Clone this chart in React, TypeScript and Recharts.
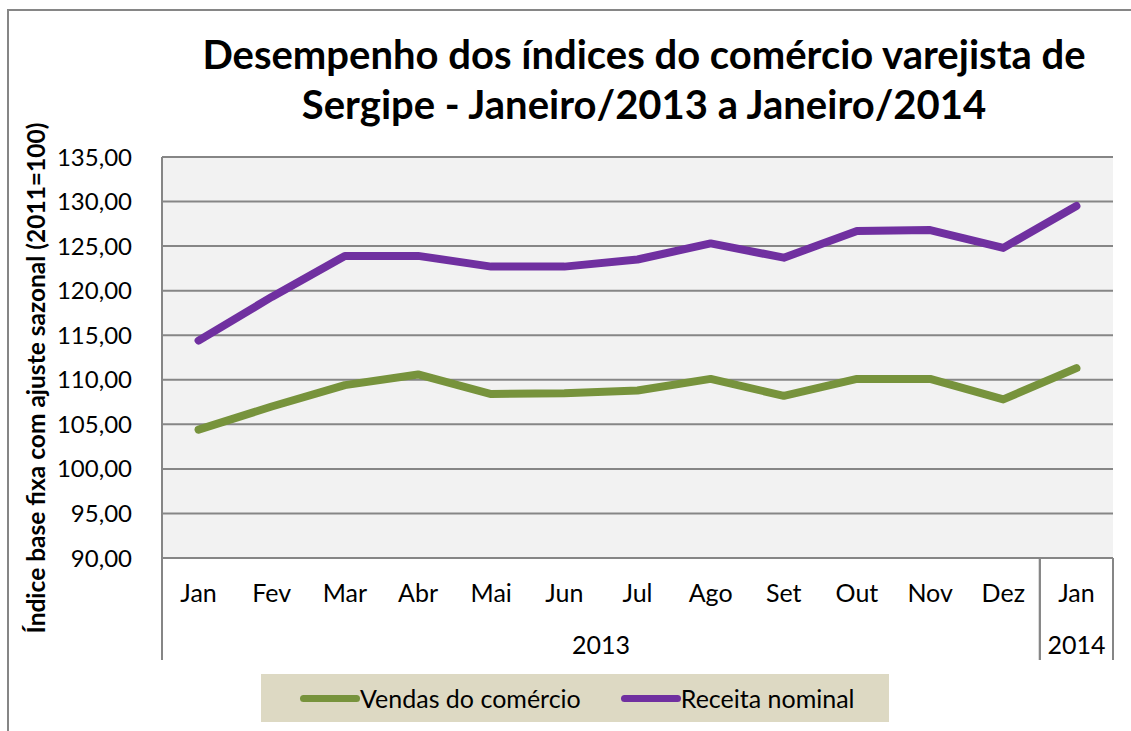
import { LineChart, Line, XAxis, YAxis, CartesianGrid } from 'recharts';

const months = ['Jan', 'Fev', 'Mar', 'Abr', 'Mai', 'Jun', 'Jul', 'Ago', 'Set', 'Out', 'Nov', 'Dez', 'Jan'];
const years = ['2013', '2013', '2013', '2013', '2013', '2013', '2013', '2013', '2013', '2013', '2013', '2013', '2014'];
const vendas = [104.4, 107.0, 109.4, 110.6, 108.4, 108.5, 108.8, 110.1, 108.2, 110.1, 110.1, 107.8, 111.3];
const receita = [114.4, 119.3, 123.9, 123.9, 122.7, 122.7, 123.5, 125.3, 123.7, 126.7, 126.8, 124.8, 129.5];
const yTicks = [90, 95, 100, 105, 110, 115, 120, 125, 130, 135];

const series = [
    { key: 'vendas', name: 'Vendas do comércio', color: '#77933C' },
    { key: 'receita', name: 'Receita nominal', color: '#7030A0' },
];

const data = months.map((m, i) => ({
    key: `${m}-${years[i]}`,
    vendas: vendas[i],
    receita: receita[i],
}));

const FONT = 'Lato, "Liberation Sans", sans-serif';
const GRID = '#868686';

// month label + the two-level year row with its separators
function MonthTick({ x, y, payload }: any) {
    const i = payload.index;
    const half = payload.offset ?? 0;
    const yr = years[i];
    const first = years.indexOf(yr);
    const last = years.lastIndexOf(yr);
    const mid = (first + last) / 2;
    const parts: any[] = [];
    parts.push(
        <text key="m" x={x} y={y + 44} textAnchor="middle" fontSize={25} fill="#000" fontFamily={FONT}>
            {months[i]}
        </text>
    );
    if (i === first) {
        parts.push(<line key="l" x1={x - half} x2={x - half} y1={y} y2={y + 102} stroke={GRID} strokeWidth={2} />);
    }
    if (i === last) {
        parts.push(<line key="r" x1={x + half} x2={x + half} y1={y} y2={y + 102} stroke={GRID} strokeWidth={2} />);
    }
    if (Math.floor(mid) === i) {
        const cx = mid === i ? x : x + half;
        parts.push(
            <text key="y" x={cx} y={y + 96} textAnchor="middle" fontSize={25} fill="#000" fontFamily={FONT}>
                {yr}
            </text>
        );
    }
    return <g>{parts}</g>;
}

export default function App() {
    return (
        <div style={{ position: 'absolute', left: 0, top: 0, width: 1131, height: 731, background: '#fff', fontFamily: FONT }}>
            <div style={{ position: 'absolute', left: 7, top: 9, right: 0, bottom: 0, borderLeft: `2px solid ${GRID}`, borderTop: `2px solid ${GRID}` }} />
            <div style={{
                position: 'absolute', left: 150, width: 988, top: 29, textAlign: 'center',
                fontWeight: 700, fontSize: 40, lineHeight: '50px', color: '#000',
            }}>
                Desempenho dos índices do comércio varejista de<br />Sergipe - Janeiro/2013 a Janeiro/2014
            </div>
            <div style={{
                position: 'absolute', left: 35, top: 378, transform: 'translate(-50%, -50%) rotate(-90deg)',
                whiteSpace: 'nowrap', fontWeight: 700, fontSize: 24.5, color: '#000',
            }}>
                Índice base fixa com ajuste sazonal (2011=100)
            </div>
            <div style={{ position: 'absolute', left: 0, top: 0 }}>
                <LineChart width={1131} height={731} data={data} margin={{ top: 157, right: 18, bottom: 71, left: 0 }}>
                    <CartesianGrid vertical={false} stroke={GRID} strokeWidth={2} fill="#F2F2F2" />
                    <XAxis
                        dataKey="key"
                        scale="band"
                        axisLine={{ stroke: GRID, strokeWidth: 2 }}
                        tickLine={false}
                        tickSize={0}
                        tickMargin={0}
                        interval={0}
                        height={102}
                        tick={<MonthTick />}
                    />
                    <YAxis
                        domain={[90, 135]}
                        ticks={yTicks}
                        width={162}
                        axisLine={{ stroke: GRID, strokeWidth: 2 }}
                        tickLine={false}
                        tickMargin={24}
                        tick={{ fill: '#000', fontSize: 24, fontFamily: FONT }}
                        tickFormatter={(v: number) => v.toFixed(2).replace('.', ',')}
                    />
                    {series.map(s => (
                        <Line key={s.key} dataKey={s.key} name={s.name} stroke={s.color} strokeWidth={8}
                            strokeLinecap="round" strokeLinejoin="round" dot={false} isAnimationActive={false} />
                    ))}
                </LineChart>
            </div>
            <div style={{
                position: 'absolute', left: 261, top: 674, width: 628, height: 48,
                background: '#DDD9C3', display: 'flex', alignItems: 'center', whiteSpace: 'nowrap',
                paddingLeft: 39, boxSizing: 'border-box', fontSize: 25, color: '#000',
            }}>
                {series.map(s => (
                    <div key={s.key} style={{ display: 'flex', alignItems: 'center', marginRight: 40, flexShrink: 0 }}>
                        <span style={{ display: 'inline-block', width: 60, height: 7, borderRadius: 4, background: s.color, flexShrink: 0 }} />
                        <span>{s.name}</span>
                    </div>
                ))}
            </div>
        </div>
    );
}
